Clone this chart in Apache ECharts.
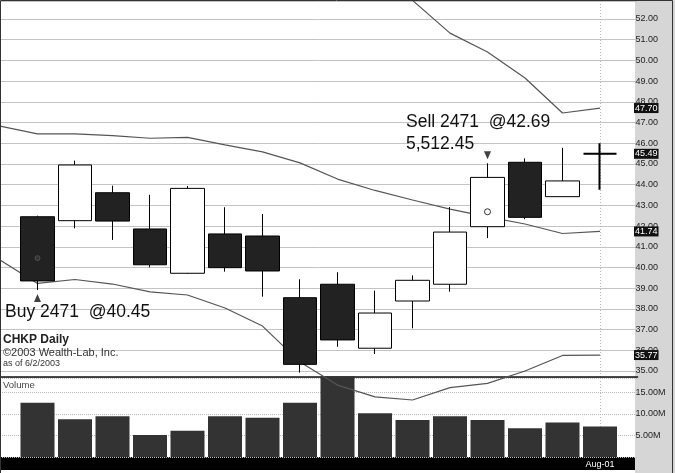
<!DOCTYPE html>
<html><head><meta charset="utf-8">
<script src="https://cdn.jsdelivr.net/npm/echarts@6/dist/echarts.min.js"></script>
<style>html,body{margin:0;padding:0;background:#fff}#c{width:675px;height:473px}</style>
</head><body><div id="c"></div>
<script>
// ---- data ----
const dates = ['Jul-10','Jul-11','Jul-12','Jul-13','Jul-16','Jul-17','Jul-18','Jul-19','Jul-20','Jul-23','Jul-24','Jul-25','Jul-26','Jul-27','Jul-30','Jul-31','Aug-01','Aug-02'];
const opens  = [null, 42.45, 42.26, 43.61, 41.86, 39.72, 41.62, 41.52, 38.54, 39.19, 36.10, 38.38, 39.19, 41.97, 45.08, 43.42, 45.49, null];
const closes = [null, 39.35, 44.95, 42.24, 40.13, 43.82, 39.99, 39.83, 35.32, 36.50, 37.80, 39.38, 41.71, 44.35, 42.42, 44.18, 45.49, null];
const lows   = [null, 38.91, 41.89, 41.33, 40.01, 39.69, 39.80, 38.59, 34.92, 36.17, 35.82, 37.06, 38.83, 41.42, 42.33, 43.42, 43.75, null];
const highs  = [null, 42.50, 45.16, 43.95, 43.51, 43.93, 42.91, 42.58, 39.43, 39.77, 38.88, 39.62, 42.92, 45.03, 45.27, 45.78, 46.00, null];
const volumes = [null, 12.6, 8.8, 9.5, 5.1, 6.1, 9.5, 9.1, 12.6, 18.8, 10.2, 8.6, 9.5, 8.6, 6.7, 8.0, 7.1, null]; // millions
const upperBand = [53.3, 53.7, 53.5, 53.5, 53.7, 53.9, 53.8, 54.0, 54.7, 54.2, 53.7, 52.9, 51.32, 50.41, 49.15, 47.46, 47.70, null];
const midBand   = [46.83, 46.45, 46.45, 46.37, 46.24, 46.28, 45.92, 45.58, 45.05, 44.27, 43.72, 43.26, 42.82, 42.44, 42.10, 41.64, 41.74, null];
const lowerBand = [40.36, 39.23, 39.42, 39.20, 38.82, 38.67, 38.04, 37.17, 35.43, 34.32, 33.75, 33.60, 34.20, 34.40, 35.00, 35.75, 35.77, null];
const buyIndex = 1, buyPrice = 40.45, sellIndex = 13, sellPrice = 42.69, shares = 2471, profitText = '5,512.45';
const symbolName = 'CHKP Daily', copyright = '\u00A92003 Wealth-Lab, Inc.', asOf = 'as of 6/2/2003';
const lastIdx = 16, lastDate = dates[lastIdx];

// ---- build ----
const FONT = '"Liberation Sans", Arial, Helvetica, sans-serif';
const candleData = dates.map((d, i) => {
  if (opens[i] == null) return ['-', '-', '-', '-'];
  const v = [opens[i], closes[i], lows[i], highs[i]];
  return opens[i] === closes[i] ? { value: v, itemStyle: { borderWidth: 2 } } : v;
});
const dash = a => a.map(v => v == null ? '-' : v);

const xAxisFor = (gridIndex, showLabel) => ({
  type: 'category', gridIndex, data: dates, boundaryGap: false,
  axisLine: { show: gridIndex === 0, onZero: false, lineStyle: { color: '#111', width: 1.5 } },
  axisTick: { show: false },
  axisLabel: { show: showLabel, interval: (i, v) => v === lastDate, color: '#fff', fontSize: 9, fontFamily: FONT, margin: 3 },
  splitLine: { show: true, interval: (i, v) => v === lastDate, lineStyle: { color: '#b8b8b8', type: [1, 2] } }
});

const chart = echarts.init(document.getElementById('c'), null, { renderer: 'canvas' });
chart.setOption({
  animation: false,
  backgroundColor: '#fff',
  grid: [
    { left: 0, top: 1, width: 637.5, height: 376 },
    { left: 0, top: 378, width: 637.5, height: 79 }
  ],
  xAxis: [xAxisFor(0, false), xAxisFor(1, true)],
  yAxis: [
    { type: 'value', gridIndex: 0, position: 'right', min: 34.71, max: 52.87, splitNumber: 18,
      axisLine: { show: false }, axisTick: { show: false },
      axisLabel: { showMinLabel: false, showMaxLabel: false, align: 'left', margin: -2, color: '#222', fontSize: 9, fontFamily: FONT,
        formatter: v => v.toFixed(2) },
      splitLine: { lineStyle: { color: '#c4c4c4', width: 1 } } },
    { type: 'value', gridIndex: 1, position: 'right', min: 0, max: 18.37, splitNumber: 4,
      axisLine: { show: false }, axisTick: { show: false },
      axisLabel: { showMinLabel: false, showMaxLabel: false, align: 'left', margin: -2, color: '#222', fontSize: 9, fontFamily: FONT,
        formatter: v => v.toFixed(2) + 'M' },
      splitLine: { lineStyle: { color: '#bcbcbc', type: [1, 1] } } }
  ],
  series: [
    { type: 'line', name: 'Upper', xAxisIndex: 0, yAxisIndex: 0, data: dash(upperBand), symbol: 'none', clip: false, z: 1,
      lineStyle: { color: '#555', width: 1.2 } },
    { type: 'line', name: 'Lower', xAxisIndex: 0, yAxisIndex: 0, data: dash(lowerBand), symbol: 'none', clip: false, z: 1,
      lineStyle: { color: '#555', width: 1.2 } },
    { type: 'line', name: 'Mid', xAxisIndex: 0, yAxisIndex: 0, data: dash(midBand), symbol: 'none', clip: false, z: 1,
      lineStyle: { color: '#555', width: 1.2 } },
    { type: 'candlestick', xAxisIndex: 0, yAxisIndex: 0, data: candleData, barWidth: 34, z: 3,
      itemStyle: { color: '#fff', color0: '#222', borderColor: '#000', borderColor0: '#000', borderWidth: 1 },
      markLine: { silent: true, symbol: ['none', 'none'], lineStyle: { color: 'rgba(0,0,0,0)', width: 0, type: 'solid' },
        label: { show: true, position: 'end', distance: -3.5, formatter: p => Number(p.value).toFixed(2), color: '#fff', backgroundColor: '#111',
          fontSize: 9, fontFamily: FONT, padding: [1, 1, 0, 1] },
        emphasis: { disabled: true },
        data: [{ yAxis: upperBand[lastIdx] }, { yAxis: closes[lastIdx] }, { yAxis: midBand[lastIdx] }, { yAxis: lowerBand[lastIdx] }] } },
    { type: 'scatter', xAxisIndex: 0, yAxisIndex: 0, z: 4, symbol: 'triangle', symbolSize: [7, 8], symbolOffset: [0, 8],
      itemStyle: { color: '#111' }, data: [[buyIndex, lows[buyIndex]]] },
    { type: 'scatter', xAxisIndex: 0, yAxisIndex: 0, z: 4, symbol: 'triangle', symbolRotate: 180, symbolSize: [7, 8], symbolOffset: [0, -8],
      itemStyle: { color: '#111' }, data: [[sellIndex, highs[sellIndex]]] },
    { type: 'scatter', xAxisIndex: 0, yAxisIndex: 0, z: 4, symbol: 'circle', symbolSize: 6,
      itemStyle: { color: '#fff', borderColor: '#000', borderWidth: 1 }, data: [[sellIndex, sellPrice]] },
    { type: 'scatter', xAxisIndex: 0, yAxisIndex: 0, z: 4, symbol: 'circle', symbolSize: 5,
      itemStyle: { color: '#3a3a3a', borderColor: '#555', borderWidth: 1 }, data: [[buyIndex, buyPrice]] },
    { type: 'bar', xAxisIndex: 1, yAxisIndex: 1, data: dash(volumes), barWidth: 34, clip: false, z: 0,
      itemStyle: { color: '#333' } }
  ],
  graphic: [
    { type: 'rect', z: -10, silent: true, shape: { x: 635, y: 0, width: 40, height: 473 }, style: { fill: '#d6d6d6' } },
    { type: 'rect', z: -10, silent: true, shape: { x: 0, y: 457, width: 635, height: 13 }, style: { fill: '#000' } },
    { type: 'polyline', z: 10, silent: true, shape: { points: [[0.5, 473], [0.5, 0.5], [672.5, 0.5], [672.5, 473]] },
      style: { stroke: '#333', fill: null, lineWidth: 1 } },
    { type: 'text', z: 10, style: { x: 406, y: 122, text: 'Sell ' + shares + '  @' + sellPrice.toFixed(2), font: '17.5px ' + FONT, fill: '#111', verticalAlign: 'middle' } },
    { type: 'text', z: 10, style: { x: 406, y: 144, text: profitText, font: '17.5px ' + FONT, fill: '#111', verticalAlign: 'middle' } },
    { type: 'text', z: 10, style: { x: 5, y: 312, text: 'Buy ' + shares + '  @' + buyPrice.toFixed(2), font: '17.5px ' + FONT, fill: '#111', verticalAlign: 'middle' } },
    { type: 'text', z: 10, style: { x: 3, y: 340, text: symbolName, font: 'bold 12px ' + FONT, fill: '#222', verticalAlign: 'middle' } },
    { type: 'text', z: 10, style: { x: 3, y: 353, text: copyright, font: '11px ' + FONT, fill: '#333', verticalAlign: 'middle' } },
    { type: 'text', z: 10, style: { x: 3, y: 364, text: asOf, font: '9px ' + FONT, fill: '#333', verticalAlign: 'middle' } },
    { type: 'text', z: 10, style: { x: 3, y: 385.5, text: 'Volume', font: '9.5px ' + FONT, fill: '#444', verticalAlign: 'middle' } }
  ]
});
</script></body></html>
